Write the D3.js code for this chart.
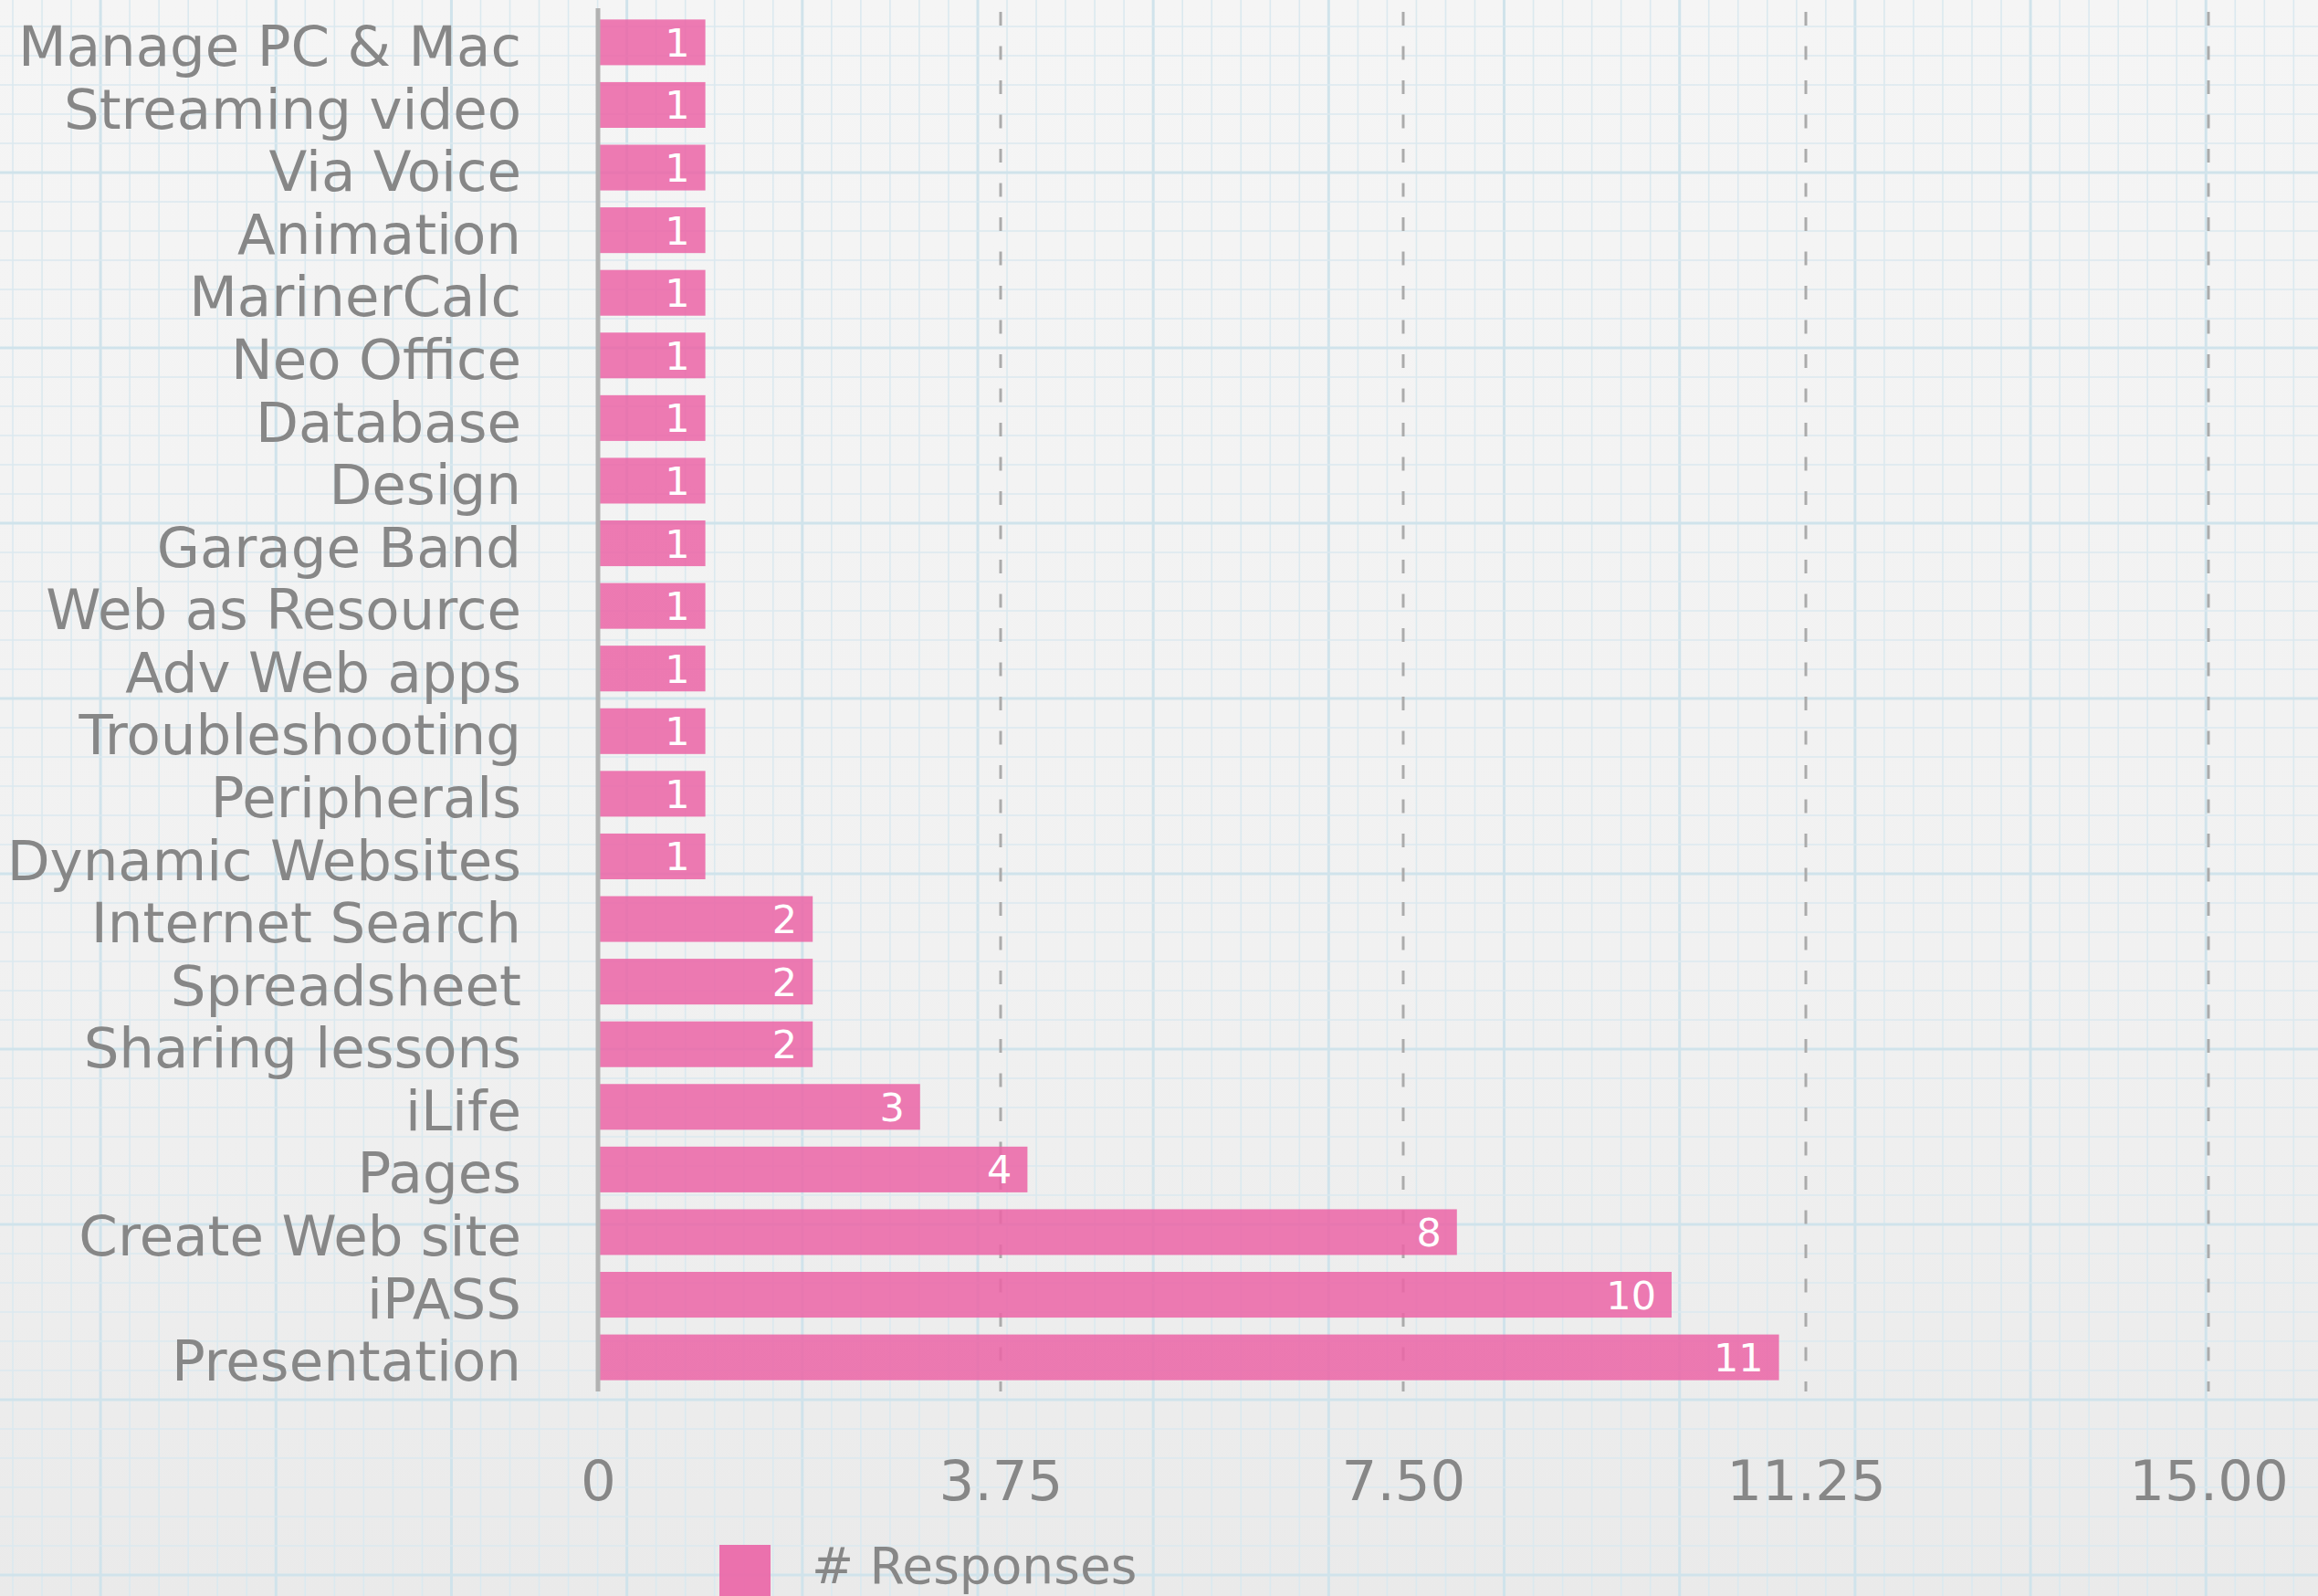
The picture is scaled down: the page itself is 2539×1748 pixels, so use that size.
<!DOCTYPE html>
<html>
<head>
<meta charset="utf-8">
<script src="https://cdn.jsdelivr.net/npm/d3@7/dist/d3.min.js"></script>
<style>
  html, body { margin: 0; padding: 0; background: #f0f0f0; }
  svg { display: block; }
  text { font-family: "DejaVu Sans", "Liberation Sans", sans-serif; }
</style>
</head>
<body>
<svg id="chart" width="2539" height="1748"></svg>
<script>
// ---- data ----
const categories = [
  "Manage PC & Mac", "Streaming video", "Via Voice", "Animation", "MarinerCalc",
  "Neo Office", "Database", "Design", "Garage Band", "Web as Resource",
  "Adv Web apps", "Troubleshooting", "Peripherals", "Dynamic Websites",
  "Internet Search", "Spreadsheet", "Sharing lessons", "iLife", "Pages",
  "Create Web site", "iPASS", "Presentation"
];
const responses = [1, 1, 1, 1, 1, 1, 1, 1, 1, 1, 1, 1, 1, 1, 2, 2, 2, 3, 4, 8, 10, 11];
const tickValues = [0, 3.75, 7.5, 11.25, 15];
const tickLabels = ["0", "3.75", "7.50", "11.25", "15.00"];
const seriesName = "# Responses";

// ---- layout ----
const W = 2539, H = 1748;
const svg = d3.select("#chart");

// background
const defs = svg.append("defs");
const grad = defs.append("linearGradient").attr("id", "bg").attr("x1", 0).attr("y1", 0).attr("x2", 0).attr("y2", 1);
grad.append("stop").attr("offset", "0%").attr("stop-color", "#f5f5f5");
grad.append("stop").attr("offset", "60%").attr("stop-color", "#f1f1f1");
grad.append("stop").attr("offset", "100%").attr("stop-color", "#eaeaea");
svg.append("rect").attr("width", W).attr("height", H).attr("fill", "url(#bg)");

// graph-paper grid
const cell = 32.03;
const gridG = svg.append("g");
d3.range(0, 80).forEach(k => {
  const x = 14 + cell * k;
  if (x > W) return;
  const thick = (k % 6) === 3;
  gridG.append("line").attr("x1", x).attr("x2", x).attr("y1", 0).attr("y2", H)
    .attr("stroke", thick ? "#d0e3eb" : "#dbe9ef")
    .attr("stroke-width", thick ? 3 : 1.6);
});
d3.range(0, 56).forEach(k => {
  const y = 29 + 32 * k;
  if (y > H) return;
  const thick = (k % 6) === 5;
  gridG.append("line").attr("y1", y).attr("y2", y).attr("x1", 0).attr("x2", W)
    .attr("stroke", thick ? "#d0e3eb" : "#dbe9ef")
    .attr("stroke-width", thick ? 3 : 1.6);
});

// scales
const x = d3.scaleLinear().domain([0, 15]).range([655, 2419]);
const y = d3.scaleBand().domain(categories).range([9, 1524]).paddingInner(0.27).paddingOuter(0.18);

// dashed gridlines
svg.append("g").selectAll("line").data(tickValues.filter(v => v > 0)).join("line")
  .attr("x1", d => x(d)).attr("x2", d => x(d))
  .attr("y1", 13).attr("y2", 1524)
  .attr("stroke", "#ababab").attr("stroke-width", 3)
  .attr("stroke-dasharray", "15,22.5");

// bars
svg.append("g").selectAll("rect").data(categories).join("rect")
  .attr("x", x(0))
  .attr("y", d => y(d))
  .attr("width", (d, i) => x(responses[i]) - x(0))
  .attr("height", y.bandwidth())
  .attr("fill", "#eb64a6").attr("fill-opacity", 0.85);

// value labels
svg.append("g").selectAll("text").data(categories).join("text")
  .attr("x", (d, i) => x(responses[i]) - 17)
  .attr("y", d => y(d) + y.bandwidth() / 2 + 15.5)
  .attr("text-anchor", "end")
  .attr("fill", "#ffffff")
  .attr("font-size", 43)
  .text((d, i) => responses[i]);

// y axis line
svg.append("line").attr("x1", x(0)).attr("x2", x(0)).attr("y1", 9).attr("y2", 1524)
  .attr("stroke", "#b2b2b2").attr("stroke-width", 5);

// category labels
const yAxis = d3.axisLeft(y).tickSize(0).tickPadding(0);
const yg = svg.append("g").attr("transform", "translate(571,0)").call(yAxis);
yg.select(".domain").remove();
yg.attr("font-family", null);
yg.selectAll("text")
  .attr("font-size", 61)
  .attr("fill", "#878787")
  .attr("x", 0)
  .attr("y", 0)
  .attr("dy", "0.42em");

// x tick labels
const xAxis = d3.axisBottom(x).tickValues(tickValues).tickSize(0).tickPadding(0)
  .tickFormat((d, i) => tickLabels[i]);
const xg = svg.append("g").attr("transform", "translate(0,1643)").call(xAxis);
xg.select(".domain").remove();
xg.attr("font-family", null);
xg.selectAll("text")
  .attr("font-size", 61)
  .attr("fill", "#878787")
  .attr("dy", null)
  .attr("y", 0);

// legend
const lg = svg.append("g");
lg.append("rect").attr("x", 788).attr("y", 1692).attr("width", 56).attr("height", 60)
  .attr("fill", "#eb64a6").attr("fill-opacity", 0.9);
lg.append("text").attr("x", 889).attr("y", 1734)
  .attr("font-size", 55).attr("fill", "#878787").text(seriesName);
</script>
</body>
</html>
